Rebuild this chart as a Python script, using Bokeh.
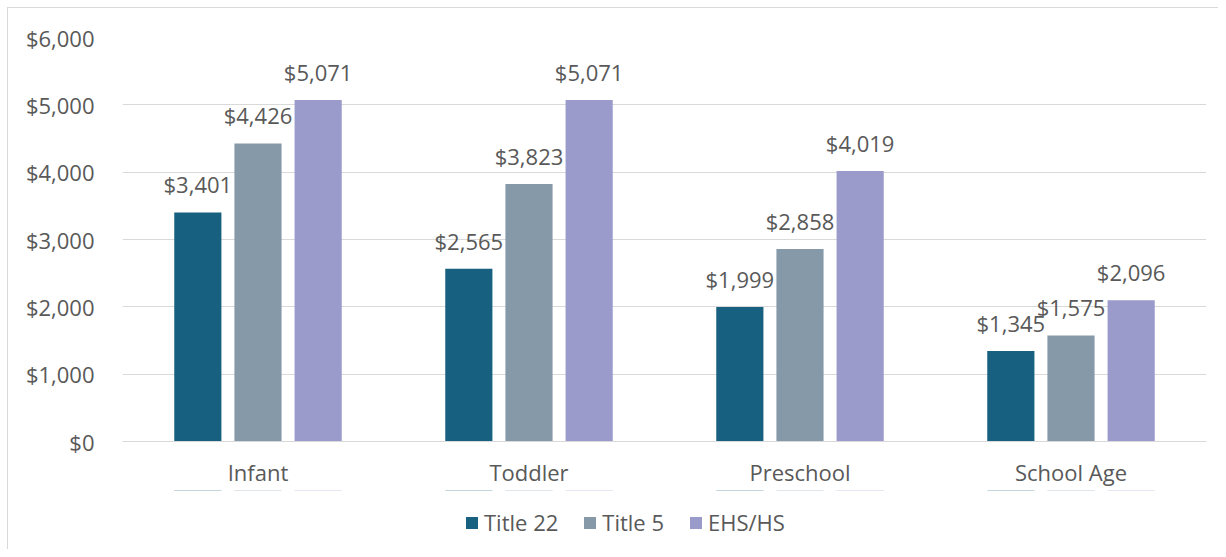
from bokeh.plotting import figure
from bokeh.layouts import column
from bokeh.models import ColumnDataSource, FactorRange, Range1d, LabelSet, Legend, LegendItem, NumeralTickFormatter, FixedTicker
from bokeh.core.properties import value
from bokeh.transform import dodge
from bokeh.embed import file_html
from bokeh.resources import INLINE

categories = ["Infant", "Toddler", "Preschool", "School Age"]
series = ["Title 22", "Title 5", "EHS/HS"]
title22 = [3401, 2565, 1999, 1345]
title5 = [4426, 3823, 2858, 1575]
ehs_hs = [5071, 5071, 4019, 2096]
colors = ["#17607F", "#8599A9", "#9A9ACB"]
y_ticks = [0, 1000, 2000, 3000, 4000, 5000, 6000]

FONT = "Open Sans"
FS = "22px"
TXT = "#595959"
GRID = "#D9D9D9"
W = 1210

data = dict(cat=categories)
for name, vals in zip(series, [title22, title5, ehs_hs]):
    data[name] = vals
    data[name + "_lbl"] = ["${:,}".format(v) for v in vals]
src = ColumnDataSource(data)

p = figure(x_range=FactorRange(factors=categories, range_padding=0),
           y_range=Range1d(0, 6000),
           width=W, height=482, output_backend="svg", toolbar_location=None,
           min_border_left=114, min_border_right=12, min_border_top=29, min_border_bottom=49)
p.outline_line_color = None
p.background_fill_color = "white"

offsets = [-0.222, 0.0, 0.222]
for name, off, col in zip(series, offsets, colors):
    p.vbar(x=dodge("cat", off, range=p.x_range), top=name, width=0.174, source=src,
           fill_color=col, line_color=None)
    lbl = LabelSet(x=dodge("cat", off, range=p.x_range), y=name, text=name + "_lbl", source=src,
                   text_align="center", text_baseline="alphabetic", y_offset=19,
                   text_font=value(FONT), text_font_size=FS, text_color=TXT)
    p.add_layout(lbl)

p.yaxis.ticker = FixedTicker(ticks=y_ticks)
p.yaxis.formatter = NumeralTickFormatter(format="$0,0")
p.yaxis.axis_line_color = None
p.yaxis.major_tick_line_color = None
p.yaxis.minor_tick_line_color = None
p.yaxis.major_label_standoff = 22
p.yaxis.major_label_text_font = FONT
p.yaxis.major_label_text_font_size = FS
p.yaxis.major_label_text_color = TXT

p.xaxis.axis_line_color = GRID
p.xaxis.axis_line_width = 1
p.xaxis.major_tick_line_color = None
p.xaxis.minor_tick_line_color = None
p.xaxis.major_label_standoff = 9
p.xaxis.major_label_text_font = FONT
p.xaxis.major_label_text_font_size = FS
p.xaxis.major_label_text_color = TXT

p.xgrid.grid_line_color = None
p.ygrid.grid_line_color = GRID
p.ygrid.grid_line_width = 1

# legend strip below the chart
lf = figure(x_range=FactorRange(factors=categories, range_padding=0),
            y_range=Range1d(-20000, -10000),
            width=W, height=59, output_backend="svg", toolbar_location=None,
            min_border=0)
lf.axis.visible = False
lf.grid.visible = False
lf.outline_line_color = None
lrs = []
for name, off, col in zip(series, offsets, colors):
    lrs.append(lf.vbar(x=dodge("cat", off, range=lf.x_range), top=name, bottom=name, width=0.174,
                       source=src, fill_color=col, line_color=None))
legend = Legend(items=[LegendItem(label=s, renderers=[r]) for s, r in zip(series, lrs)],
                orientation="horizontal", location=(342, 12),
                glyph_width=15, glyph_height=15, label_standoff=5, spacing=24,
                padding=6, margin=0, border_line_color=None, background_fill_alpha=0,
                label_text_font=FONT, label_text_font_size=FS, label_text_color=TXT)
lf.add_layout(legend, "center")

layout = column(p, lf, spacing=0)
layout.styles = {"margin-left": "7px", "margin-top": "7px",
                 "border-left": "1px solid #D9D9D9", "border-top": "1px solid #D9D9D9"}
open("out.html", "w").write(file_html(layout, INLINE))
